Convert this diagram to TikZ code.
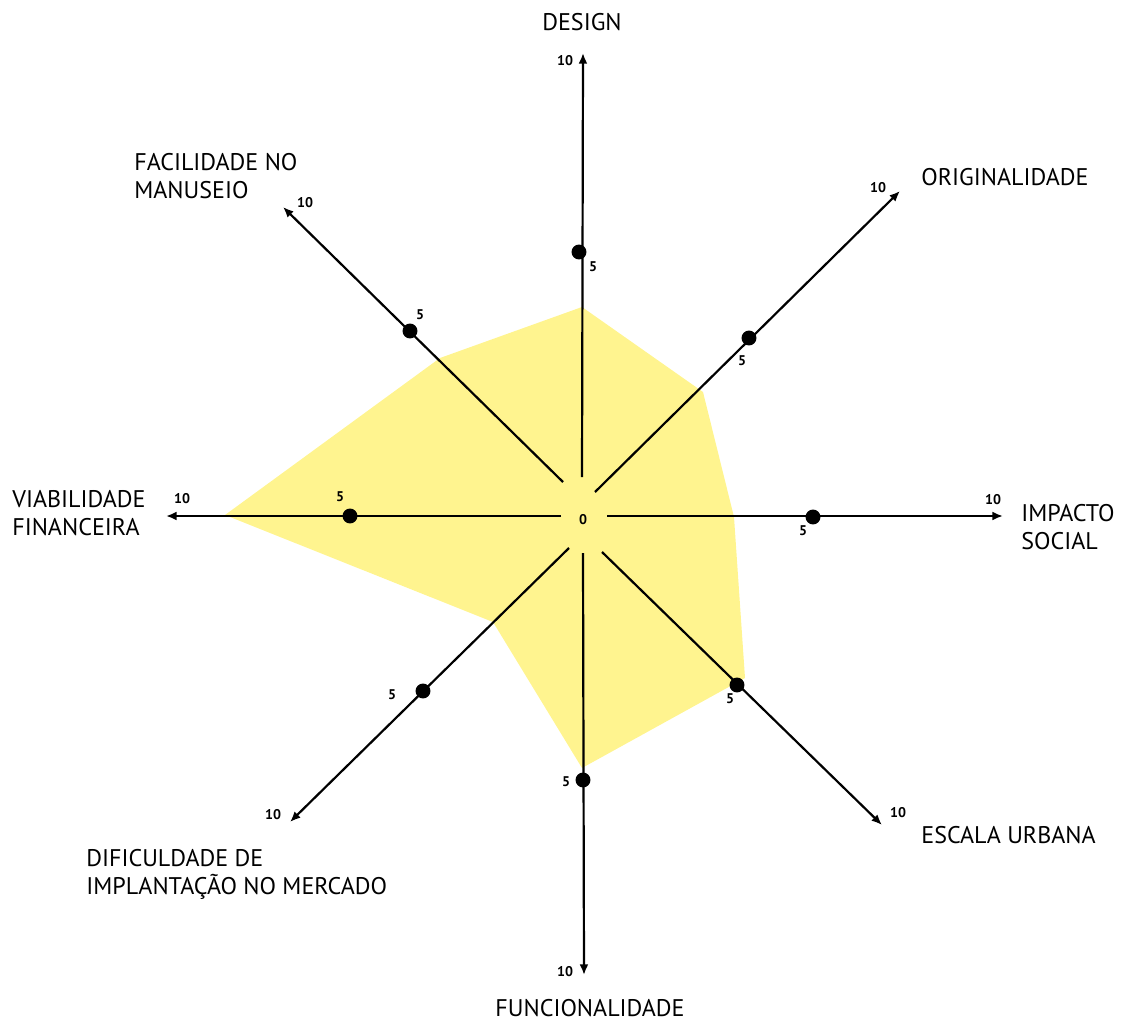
\documentclass[tikz,border=0pt]{standalone}
\usepackage{fontspec}
\setmainfont{PT Sans}
\usepackage{xcolor}
\usepackage{tikz}
\usetikzlibrary{arrows.meta}

\definecolor{areafill}{RGB}{255,244,143}

\begin{document}
\begin{tikzpicture}[x=0.02cm, y=-0.02cm]
		\tikzstyle{axis} = [line width=1.25pt, -{Latex[length=6pt, width=5pt]}]
		\tikzstyle{title} = [inner sep=0pt, align=left, font=\fontsize{13.7}{16}\selectfont]
		\tikzstyle{tick} = [inner sep=0pt, font=\bfseries\fontsize{8}{8}\selectfont]
		\tikzstyle{mark5} = [circle, fill=black, inner sep=0pt, minimum size=8.5pt]
		
		\useasboundingbox (0, 0) rectangle (1126, 1024);
		
		% area
		\fill[areafill] (582, 307) -- (703, 392) -- (734, 517) -- (745, 678)
			-- (582, 768) -- (493, 622) -- (225, 515) -- (440, 358) -- cycle;
		
		% axis ends
		\coordinate (s1) at (582, 477);	\coordinate (e1) at (583, 53);
		\coordinate (s2) at (595, 492);	\coordinate (e2) at (900, 191);
		\coordinate (s3) at (607, 516);	\coordinate (e3) at (1003, 516);
		\coordinate (s4) at (602, 552);	\coordinate (e4) at (882, 825);
		\coordinate (s5) at (583, 553);	\coordinate (e5) at (584, 975);
		\coordinate (s6) at (569, 548);	\coordinate (e6) at (290, 822);
		\coordinate (s7) at (561, 516);	\coordinate (e7) at (166, 516);
		\coordinate (s8) at (563, 482);	\coordinate (e8) at (283, 207);
		
		\foreach \i in {1,...,8}
			\draw [axis] (s\i) -- (e\i);
		
		% points at 5
		\node[mark5]	at (579, 252)	(m1)	{};
		\node[mark5]	at (749, 338)	(m2)	{};
		\node[mark5]	at (813, 517)	(m3)	{};
		\node[mark5]	at (737, 685)	(m4)	{};
		\node[mark5]	at (583, 780)	(m5)	{};
		\node[mark5]	at (423, 691)	(m6)	{};
		\node[mark5]	at (350, 516)	(m7)	{};
		\node[mark5]	at (410, 331)	(m8)	{};
		
		% scale labels
		\node[tick]	at (583, 520)	(z0)	{0};
		\node[tick]	at (593, 267)	(f1)	{5};
		\node[tick]	at (742, 361)	(f2)	{5};
		\node[tick]	at (803, 531)	(f3)	{5};
		\node[tick]	at (730, 699)	(f4)	{5};
		\node[tick]	at (566, 782)	(f5)	{5};
		\node[tick]	at (392, 695)	(f6)	{5};
		\node[tick]	at (340, 497)	(f7)	{5};
		\node[tick]	at (420, 315)	(f8)	{5};
		
		\node[tick]	at (565, 61)	(t1)	{10};
		\node[tick]	at (878, 188)	(t2)	{10};
		\node[tick]	at (993, 500)	(t3)	{10};
		\node[tick]	at (898, 813)	(t4)	{10};
		\node[tick]	at (565, 972)	(t5)	{10};
		\node[tick]	at (273, 815)	(t6)	{10};
		\node[tick]	at (182, 499)	(t7)	{10};
		\node[tick]	at (305, 203)	(t8)	{10};
		
		% criteria
		\node[title]	at (582, 22)	(design)	{DESIGN};
		\node[title, anchor=west]	at (921, 177)	(orig)	{ORIGINALIDADE};
		\node[title, anchor=west]	at (1021, 527)	(impact)	{IMPACTO\\SOCIAL};
		\node[title, anchor=west]	at (921, 835)	(escala)	{ESCALA URBANA};
		\node[title]	at (590, 1008)	(func)	{FUNCIONALIDADE};
		\node[title, anchor=west]	at (86, 874)	(dific)	{DIFICULDADE DE\\IMPLANTAÇÃO NO MERCADO};
		\node[title, anchor=west]	at (12, 513)	(viab)	{VIABILIDADE\\FINANCEIRA};
		\node[title, anchor=west]	at (134, 176)	(facil)	{FACILIDADE NO\\MANUSEIO};
		
	\end{tikzpicture}
\end{document}
